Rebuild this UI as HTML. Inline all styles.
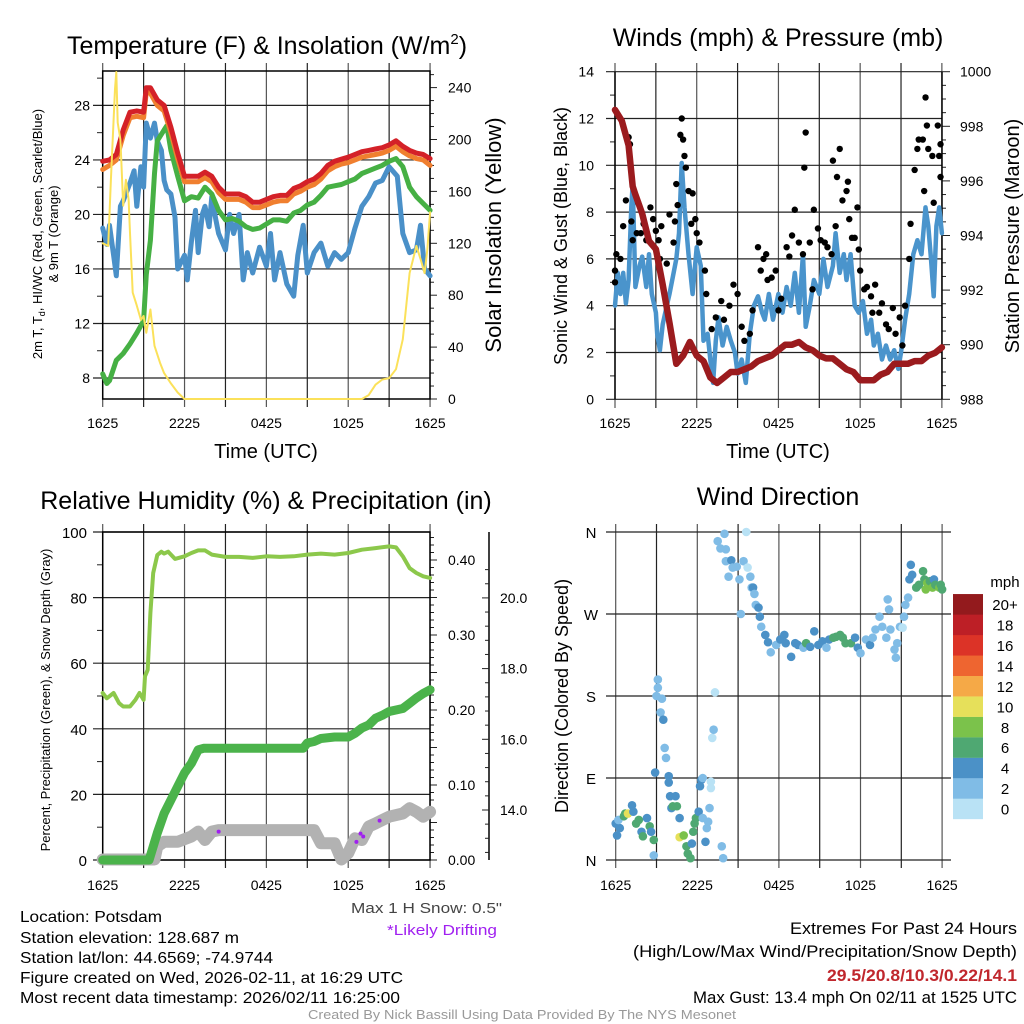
<!DOCTYPE html>
<html><head><meta charset="utf-8"><title>Mesonet Meteogram</title>
<style>
html,body{margin:0;padding:0;background:#fff;}
svg{display:block;font-family:"Liberation Sans",sans-serif;}
</style></head>
<body>
<svg id="fig" xmlns="http://www.w3.org/2000/svg" width="1024" height="1024" viewBox="0 0 1024 1024">
<rect width="1024" height="1024" fill="#fff"/>
<!-- Titles -->
<text x="267" y="54" font-size="25" text-anchor="middle">Temperature (F) &amp; Insolation (W/m<tspan font-size="15" dy="-10">2</tspan><tspan dy="10">)</tspan></text>
<text x="778" y="46" font-size="25" text-anchor="middle">Winds (mph) &amp; Pressure (mb)</text>
<text x="266" y="509" font-size="25" text-anchor="middle">Relative Humidity (%) &amp; Precipitation (in)</text>
<text x="778" y="505" font-size="25" text-anchor="middle">Wind Direction</text>
<!-- axis titles -->
<text x="266" y="458" font-size="20" text-anchor="middle">Time (UTC)</text>
<text x="778" y="458" font-size="20" text-anchor="middle">Time (UTC)</text>
<text transform="translate(42,234) rotate(-90)" font-size="13" text-anchor="middle">2m T, T<tspan font-size="9" dy="3">d</tspan><tspan dy="-3">, HI/WC (Red, Green, Scarlet/Blue)</tspan></text>
<text transform="translate(58,234) rotate(-90)" font-size="13" text-anchor="middle">&amp; 9m T (Orange)</text>
<text transform="translate(501,235) rotate(-90)" font-size="22" text-anchor="middle">Solar Insolation (Yellow)</text>
<text transform="translate(567,236) rotate(-90)" font-size="18" text-anchor="middle">Sonic Wind &amp; Gust (Blue, Black)</text>
<text transform="translate(1019,236) rotate(-90)" font-size="20" text-anchor="middle">Station Pressure (Maroon)</text>
<text transform="translate(50,700) rotate(-90)" font-size="13" text-anchor="middle">Percent, Precipitation (Green), &amp; Snow Depth (Gray)</text>
<text transform="translate(568,696) rotate(-90)" font-size="18" text-anchor="middle">Direction (Colored By Speed)</text>
<!-- footer -->
<text x="20" y="922" font-size="16" textLength="142" lengthAdjust="spacingAndGlyphs">Location: Potsdam</text>
<text x="20" y="943" font-size="16" textLength="219" lengthAdjust="spacingAndGlyphs">Station elevation: 128.687 m</text>
<text x="20" y="963" font-size="16" textLength="253" lengthAdjust="spacingAndGlyphs">Station lat/lon: 44.6569; -74.9744</text>
<text x="20" y="983" font-size="16" textLength="383" lengthAdjust="spacingAndGlyphs">Figure created on Wed, 2026-02-11, at 16:29 UTC</text>
<text x="20" y="1003" font-size="16" textLength="380" lengthAdjust="spacingAndGlyphs">Most recent data timestamp: 2026/02/11 16:25:00</text>
<text x="351" y="913" font-size="15" fill="#444" textLength="151" lengthAdjust="spacingAndGlyphs">Max 1 H Snow: 0.5"</text>
<text x="387" y="935" font-size="15" fill="#a020f0" textLength="110" lengthAdjust="spacingAndGlyphs">*Likely Drifting</text>
<text x="308" y="1019" font-size="13" fill="#999" textLength="428" lengthAdjust="spacingAndGlyphs">Created By Nick Bassill Using Data Provided By The NYS Mesonet</text>
<text x="790" y="934" font-size="17" textLength="227" lengthAdjust="spacingAndGlyphs">Extremes For Past 24 Hours</text>
<text x="633" y="957" font-size="17" textLength="384" lengthAdjust="spacingAndGlyphs">(High/Low/Max Wind/Precipitation/Snow Depth)</text>
<text x="827" y="981" font-size="17" font-weight="bold" fill="#c0272d" textLength="190" lengthAdjust="spacingAndGlyphs">29.5/20.8/10.3/0.22/14.1</text>
<text x="693" y="1003" font-size="17" textLength="324" lengthAdjust="spacingAndGlyphs">Max Gust: 13.4 mph On 02/11 at 1525 UTC</text>
<g id="g1"></g>
<g id="g2"></g>
<g id="g3"></g>
<g id="g4"></g>
</svg>
<script>
// ---------- DATA ----------
const timeTickLabels = ["1625","2225","0425","1025","1625"];
const tempTicks = [8,12,16,20,24,28];
const solarTicks = [0,40,80,120,160,200,240];
const windTicks = [0,2,4,6,8,10,12,14];
const presTicks = [988,990,992,994,996,998,1000];
const rhTicks = [0,20,40,60,80,100];
const precipTicks = ["0.00","0.10","0.20","0.30","0.40"];
const snowTicks = ["14.0","16.0","18.0","20.0"];
const dirTicks = ["N","E","S","W","N"];
const speedBins = ["0","2","4","6","8","10","12","14","16","18","20+"];
const speedColors = ["#b9e2f5","#80bce6","#4b91c7","#4fa872","#7bc24b","#e6e05a","#f5a947","#ee6530","#dc3327","#bd1f26","#931a1d"];

const redT = [0,0.5,1,1.5,2,2.5,3,3.2,3.5,4,4.5,5,5.5,6,6.5,7,7.5,8,8.5,9,9.5,10,10.5,11,11.5,12,12.5,13,13.5,14,14.5,15,15.5,16,16.5,17,17.5,18,18.5,19,19.5,20,20.5,21,21.5,22,22.5,23,23.5,24];
const redV = [23.9,24,24.4,26.2,27.5,27.6,27.5,29.3,29.3,28.4,28,26.4,24.5,22.8,22.8,22.8,23.1,22.8,22,21.5,21.5,21.5,21.3,20.9,20.9,21.1,21.3,21.4,21.4,21.9,22.1,22.4,22.6,23,23.6,23.9,24.05,24.2,24.4,24.6,24.7,24.8,24.9,25.1,25.4,25,24.7,24.5,24.4,24.1];
const orangeV = [23.3,23.6,24,25.8,27.1,27.2,27.1,29,28.9,28,27.6,26,24.1,22.4,22.4,22.4,22.7,22.4,21.6,21.1,21.1,21.1,20.9,20.5,20.5,20.7,20.9,21,21,21.5,21.7,22,22.2,22.6,23.2,23.5,23.7,23.8,24,24.2,24.3,24.4,24.5,24.7,25,24.6,24.3,24.1,24,23.6];
const greenT = [0,0.3,0.5,1,1.5,2,2.5,3,3.2,3.5,3.8,4,4.5,4.7,5,5.5,6,6.5,7,7.5,8,8.5,9,9.5,10,10.5,11,11.5,12,12.5,13,13.5,14,14.5,15,15.5,16,16.5,17,17.5,18,18.5,19,19.5,20,20.5,21,21.5,22,22.5,23,23.5,24];
const greenV = [8.3,7.6,7.8,9.3,9.8,10.5,11.3,12.2,15.6,18.1,23,25.4,26.2,26.5,24.7,22.8,21,21.3,21.2,22,21.5,20.3,19.6,19.7,19.5,19.1,18.9,19,19.3,19.6,19.6,19.5,20.1,20.3,20.7,20.9,21.4,22,22.1,22.2,22.4,22.6,23,23.2,23.4,23.6,23.9,24.1,23.5,22,21.3,20.8,20.3];
const blueT = [0,0.3,0.5,0.8,1,1.3,1.5,2,2.3,2.5,2.8,3,3.2,3.5,3.8,4,4.3,4.5,4.7,5,5.3,5.5,6,6.2,6.5,6.8,7,7.3,7.5,7.8,8,8.3,8.5,9,9.3,9.6,10,10.3,10.6,11,11.5,12,12.3,12.6,13,13.5,14,14.3,14.7,15,15.5,16,16.5,17,17.5,18,18.5,19,19.5,20,20.5,21,21.6,22,22.5,23,23.3,23.6,24];
const blueV = [19,17.8,19.2,17,15.5,20.6,21,22.3,23.2,20.6,23.5,22,26.7,25.6,26.7,25.4,24.7,22.5,21.8,21.5,19.8,16,17,15.2,18,20.3,17.2,20,20.6,19.1,21.3,19.6,18.6,17.4,20,18.6,20,15.2,17.2,15.7,17.6,16.2,18.6,15.2,17.2,14.9,14,17,19.2,15.7,17.2,17.9,16.2,17.2,16.7,17.2,19,20.6,21.3,22.3,22.5,23.5,22.8,18.6,17.2,17.4,19.2,16,15.5];
const solarT = [0,0.4,0.6,0.9,1,1.1,1.3,1.5,1.7,1.9,2,2.2,2.5,2.8,3,3.2,3.5,3.8,4.2,4.5,5,5.5,6,19,19.5,20,20.5,21,21.5,22,22.5,23,23.3,23.6,23.8,24];
const solarV = [120,118,169,239,252,213,200,149,169,154,128,82,72,61,64,51,69,41,28,20,12,5,0,0,3,11,15,16,23,46,97,118,108,97,115,144];

const presT = [0,0.5,1,1.3,1.5,2,2.5,3,3.5,4,4.5,5,5.5,6,6.5,7,7.5,8,8.5,9,9.5,10,10.5,11,11.5,12,12.5,13,13.5,14,14.5,15,15.5,16,16.5,17,17.5,18,18.5,19,19.5,20,20.5,21,21.5,22,22.5,23,23.5,24];
const presV = [998.6,998.2,997.3,995.8,995.5,994.8,993.8,993.5,992.2,990.8,989.3,989.6,990.1,989.6,989.4,988.8,988.6,988.8,989,989,989.1,989.2,989.4,989.5,989.6,989.8,990,990,990.1,989.9,989.8,989.6,989.5,989.5,989.3,989.1,989,988.7,988.7,988.7,988.9,989,989.3,989.3,989.3,989.4,989.4,989.6,989.7,989.9];
const windT = [0,0.2,0.4,0.6,0.8,1,1.2,1.3,1.5,1.8,2,2.3,2.5,2.7,3,3.1,3.3,3.5,3.8,4,4.3,4.5,4.7,4.9,5.1,5.4,5.7,6,6.3,6.5,6.8,7,7.2,7.4,7.6,7.9,8.2,8.5,8.8,9,9.3,9.6,9.9,10.2,10.5,10.8,11,11.3,11.6,12,12.3,12.6,12.9,13.2,13.5,13.8,14,14.3,14.6,15,15.3,15.6,16,16.2,16.5,16.8,17,17.3,17.6,17.9,18.2,18.5,18.8,19,19.3,19.6,19.9,20.2,20.5,20.8,21,21.3,21.6,21.9,22.2,22.5,22.8,23,23.2,23.4,23.6,23.8,24];
const windV = [4,5.4,4.5,5.4,4.1,5.1,8.2,9.2,4.8,5.7,6.1,4.8,6.2,4.5,3.7,2.8,2.1,3.2,4,4.5,5.4,6,7.1,10.1,8.2,6.2,4.5,6.5,5.7,2.5,2.8,1.7,0.7,2.5,3.5,2.3,3.1,2.5,2,1.1,1.7,0.7,2.8,4,4.4,3.7,3.4,4.5,3.4,4.5,3.7,4.8,4,5.4,3.7,6.2,3.1,4,5.1,4.5,6,4.8,5.7,7.1,5.4,6.2,5.1,6.2,4,3.7,4.2,2.8,3.4,2.3,2.8,1.7,2.3,1.7,2.1,1.3,2,3.4,4.5,6.2,6.8,6.2,8.2,7.4,6,4.4,7.4,8.2,7.1];
const gustT = [0,0,0.1,0.4,0.6,0.8,1,1.1,1.2,1.3,1.6,1.7,1.9,2.1,2.3,2.6,2.8,3,3.2,3.3,3.4,3.8,4,4.3,4.4,4.5,4.6,4.8,4.9,5,5.1,5.2,5.4,5.6,5.7,5.9,6,6.2,6.6,6.7,7.1,7.4,7.8,8,8.4,8.7,9,9.3,9.5,9.9,10.1,10.5,10.7,10.9,11.1,11.2,11.5,11.8,12,12.2,12.6,12.8,13,13.2,13.5,13.8,13.9,14,14.3,14.5,14.6,14.9,15.1,15.4,15.6,15.9,16,16.2,16.3,16.5,16.7,17,17.1,17.2,17.4,17.6,17.8,17.9,18,18.3,18.5,18.8,18.9,19.1,19.4,19.6,19.9,20.1,20.4,20.6,20.9,21.1,21.3,21.6,21.7,22,22.2,22.3,22.6,22.7,22.8,22.9,23,23.3,23.4,23.7,23.8,23.9,23.9];
const gustV = [5,5.5,6.2,6,7.4,8.5,11.2,10.9,7.6,6.8,7.1,8.4,7.1,7.5,6.8,8.2,7.7,7.2,6.8,6,7.4,5.8,7.9,6.7,7.6,9.2,8.3,11.3,12,11.1,10.4,9.9,8.9,7.5,8.8,7.7,7.1,6.7,5.5,4.5,3,3.5,4.2,3.4,4,4.9,4.5,3.1,2.5,2.8,3.8,6.5,5.5,6,6.2,5.1,5.2,5.5,3.8,4.3,6.5,6.1,7,8.1,6.7,6.2,9.9,11.4,6.7,4.7,8.1,7.3,6.8,6.7,6.5,6.2,10.2,7.4,9.5,10.7,8.5,8.9,9.3,7.7,6.9,6.9,8.2,6.4,5.5,4.7,4.8,4.4,3.7,4.9,3.7,4.1,3.2,3,3.9,2.8,3.5,2.3,4,6,7.5,9.8,10.7,11.1,11.1,8.9,12.9,11.7,10.7,10.4,8.4,11.7,10.4,10.9,9.5];

const rhT = [0,0.3,0.8,1.2,1.5,2,2.4,2.7,3,3.1,3.3,3.5,3.7,4,4.3,4.5,4.8,5.3,6,6.5,7,7.5,8,9,10,11,12,13,14,15,16,17,18,19,20,21,21.5,22,22.5,23,23.5,24];
const rhV = [50.9,49.3,50.9,47.8,46.8,46.8,48.8,50.9,48.8,56,58,75.3,87.5,93,94,93.4,94,91.8,92.6,93.6,94.4,94.4,93.1,92.4,92.4,92.1,92.6,92.4,92.6,93.1,93.4,93.1,93.6,94.6,95.1,95.6,95.3,92.6,89,87.5,86.5,86];
const precipT = [0,3.4,4,4.5,5,5.5,6,6.5,7,7.4,14.7,15,15.5,16,17,18,18.5,19,19.5,20,20.5,21,21.5,22,22.5,23,23.5,24];
const precipV = [0,0,0.036,0.062,0.08,0.098,0.116,0.129,0.147,0.149,0.149,0.156,0.158,0.162,0.164,0.164,0.169,0.176,0.18,0.189,0.193,0.198,0.2,0.202,0.209,0.216,0.222,0.227];
const snowT = [0,3.8,4,4.5,5.5,6.5,7,7.5,8,8.5,15.5,16,17,17.5,18,18.5,19,19.5,20,21,22,22.5,23,23.5,24];
const snowV = [12.6,12.6,12.97,13.1,13.1,13.25,13.39,13.15,13.39,13.43,13.43,13.06,13.06,12.6,12.78,13.2,13.15,13.53,13.62,13.81,13.9,14.05,13.95,13.81,13.95];
const driftT = [8.5,18.6,18.9,19.1,20.3];
const driftV = [13.39,13.1,13.33,13.25,13.7];

const dirT = [0,0.1,0.3,0.2,0.6,0.7,0.9,1.2,1.3,1.5,1.7,1.9,2,2.3,2.5,2.6,2.8,2.8,2.9,3,3.1,3.1,3.3,3.4,3.5,3.6,3.7,3.9,3.9,4,4.1,4.2,4.4,4.5,4.7,4.7,5,5.2,5.3,5.5,5.6,5.7,5.8,5.9,6.1,6.2,6.3,6.4,6.4,6.6,6.7,6.8,6.9,7,7,7.1,7.2,7.3,7.5,7.7,7.8,7.9,8,8.1,8.1,8.3,8.5,8.6,8.9,9.1,9.2,9.4,9.6,9.7,9.9,10,10.1,10.2,10.3,10.5,10.6,10.7,11,11.2,11.4,11.8,12.1,12.4,12.5,12.9,13.2,13.4,13.8,14,14.3,14.6,14.9,15.2,15.5,15.7,16,16.2,16.5,16.7,16.9,17.3,17.6,17.8,18,18.4,18.7,18.9,19.1,19.4,19.6,19.9,20,20.1,20.2,20.5,20.6,20.7,20.9,21.1,21.2,21.3,21.5,21.6,21.7,21.8,22.1,22.3,22.6,22.7,22.8,22.9,23.1,23.3,23.4,23.5,23.8,23.9,24];
const dirV = [40,27,35,44,48,51,51,60,53,40,44,31,26,46,37,31,22,5,96,180,198,189,162,177,154,123,112,92,85,70,57,59,70,59,46,25,27,15,7,2,18,31,40,46,53,81,88,90,46,20,35,42,57,86,79,134,143,184,350,342,15,2,358,341,328,311,329,321,322,308,270,328,360,321,311,299,299,292,280,277,267,256,247,239,228,236,242,247,238,223,238,236,233,238,234,251,236,240,233,242,244,245,247,244,238,238,244,233,227,242,236,244,253,267,256,244,286,275,253,231,222,238,256,255,267,280,288,308,324,313,299,302,317,308,297,304,306,299,308,302,299,302,297];
const dirSpeed = [5,5,5,3,7,7,11,5,5,7,7,5,7,5,7,5,7,3,5,3,3,3,3,3,5,3,3,5,5,5,5,7,5,7,5,11,9,7,7,7,5,7,7,7,5,5,5,3,3,5,3,3,3,1,1,1,3,1,3,3,3,3,3,3,3,3,5,3,3,3,3,3,1,1,3,3,5,3,3,5,5,3,5,5,3,3,5,5,5,5,5,5,3,7,5,5,5,5,3,5,7,7,7,7,7,7,5,5,3,3,5,3,3,3,3,3,3,3,3,3,3,3,3,1,3,3,3,5,5,5,7,7,7,7,9,9,7,9,5,7,9,7,7];

// ---------- SCALES ----------
const NS = "http://www.w3.org/2000/svg";
const xA = t => 102.7 + t * 13.64;
const xB = t => 615 + t * 13.62;
const xD = t => 615.7 + t * 13.6;
const yTemp = v => 378 - (v - 8) * 13.63;
const ySolar = w => 399 - w * 1.2975;
const yWind = v => 399.3 - v * 23.4;
const yPres = p => 399.3 - (p - 988) * 27.3;
const yRH = v => 860 - v * 3.28;
const yPrecip = v => 860 - v * 750;
const ySnow = v => 810 - (v - 14) * 35.35;
const yDir = d => 860 - d * 0.9111;

function el(tag, parent) { const e = document.createElementNS(NS, tag); parent.appendChild(e); return e; }
function line(p, x1, y1, x2, y2, c, w) {
  const l = el("line", p);
  l.setAttribute("x1", x1); l.setAttribute("y1", y1); l.setAttribute("x2", x2); l.setAttribute("y2", y2);
  l.setAttribute("stroke", c); l.setAttribute("stroke-width", w);
  return l;
}
function txt(p, x, y, s, size, anchor) {
  const t = el("text", p);
  t.setAttribute("x", x); t.setAttribute("y", y); t.setAttribute("font-size", size);
  t.setAttribute("text-anchor", anchor); t.textContent = s;
  return t;
}
function path(p, ts, vs, fx, fy, c, w) {
  const d = ts.map((t, i) => (i ? "L" : "M") + fx(t).toFixed(1) + "," + fy(vs[i]).toFixed(1)).join("");
  const e = el("path", p);
  e.setAttribute("d", d); e.setAttribute("fill", "none"); e.setAttribute("stroke", c);
  e.setAttribute("stroke-width", w); e.setAttribute("stroke-linejoin", "round"); e.setAttribute("stroke-linecap", "round");
  return e;
}
function timeGrid(g, fx, y0, y1, labY) {
  for (let i = 0; i <= 8; i++) {
    const gl = line(g, fx(i * 3), y0, fx(i * 3), y1, i % 2 ? "#222" : "#555", 1.2);
    
    
  }
  timeTickLabels.forEach((s, i) => {
    const t = txt(g, fx(i * 6), labY, s, 14, "middle");
    
    
  });
}

// ---------- PANEL 1 ----------
const g1 = document.getElementById("g1");
timeGrid(g1, xA, 63, 407, 428);
tempTicks.forEach(v => {
  const gl = line(g1, 93, yTemp(v), 430, yTemp(v), "#222", 1.2);
  
  
  const t = txt(g1, 90, yTemp(v) + 5, v, 14, "end");
  
  
});
for (let v = 10; v <= 30; v += 4) { const m = line(g1, 97, yTemp(v), 102.7, yTemp(v), "#222", 1);   }
for (let w = 0; w <= 250; w += 10) { const m = line(g1, 430, ySolar(w), w % 40 ? 434 : 437, ySolar(w), "#222", 1);   }
solarTicks.forEach(w => {
  const t = txt(g1, 448, ySolar(w) + 5, w, 14, "start");
  
  
});
const b1 = el("rect", g1);
b1.setAttribute("x", 102.7); b1.setAttribute("y", 71); b1.setAttribute("width", 327.3); b1.setAttribute("height", 328);
b1.setAttribute("fill", "none"); b1.setAttribute("stroke", "#000"); b1.setAttribute("stroke-width", 1.5);


let s;
s = path(g1, blueT, blueV, xA, yTemp, "#4a90c8", 5);


s = path(g1, greenT, greenV, xA, yTemp, "#46b044", 5);


s = path(g1, redT, orangeV, xA, yTemp, "#f07f2f", 5);


s = path(g1, redT, redV, xA, yTemp, "#d42128", 5);


s = path(g1, solarT, solarV, xA, ySolar, "#fbe15a", 2);



// ---------- PANEL 2 ----------
const g2 = document.getElementById("g2");
timeGrid(g2, xB, 63, 408, 428);
windTicks.forEach(v => {
  const gl = line(g2, 606, yWind(v), 942, yWind(v), "#222", 1.2);
  
  
  const t = txt(g2, 594, yWind(v) + 5, v, 14, "end");
  
  
});
for (let v = 1; v < 14; v += 2) { const m = line(g2, 610, yWind(v), 615, yWind(v), "#222", 1);   }
for (let p = 988; p <= 1000; p += 0.5) { const m = line(g2, 942, yPres(p), p % 2 ? 946 : 950, yPres(p), "#222", 1);   }
presTicks.forEach(p => {
  const t = txt(g2, 960, yPres(p) + 5, p, 14, "start");
  
  
});
line(g2, 615, 71.7, 615, 399.3, "#000", 1.5);
line(g2, 942, 71.7, 942, 399.3, "#000", 1.5);
s = path(g2, windT, windV, xB, yWind, "#4a94cc", 4.5);


gustT.forEach((t, i) => {
  const c = el("circle", g2);
  c.setAttribute("cx", xB(t)); c.setAttribute("cy", yWind(gustV[i])); c.setAttribute("r", 3.2); c.setAttribute("fill", "#000");
  
  
});
s = path(g2, presT, presV, xB, yPres, "#9b1b1e", 6.5);



// ---------- PANEL 3 ----------
const g3 = document.getElementById("g3");
timeGrid(g3, xA, 524, 868, 890);
rhTicks.forEach(v => {
  const gl = line(g3, 93, yRH(v), 430, yRH(v), "#222", 1.2);
  
  
  const t = txt(g3, 87, yRH(v) + 6, v, 15, "end");
  
  
});
for (let v = 10; v < 100; v += 20) { const m = line(g3, 97, yRH(v), 102.7, yRH(v), "#222", 1);   }
for (let i = 0; i <= 43; i++) { const v = i * 0.01; const m = line(g3, 430, yPrecip(v), i % 5 ? 434 : 437, yPrecip(v), "#222", 1);   }
precipTicks.forEach((s2, i) => {
  const t = txt(g3, 448, yPrecip(i * 0.1) + 5, s2, 14, "start");
  
  
});
line(g3, 489, 532, 489, 860, "#000", 1.5);
for (let v = 12.8; v <= 20.9; v += 0.4) { const major = Math.abs(v - Math.round(v / 2) * 2) < 0.05; const m = line(g3, major ? 482 : 485, ySnow(v), 489, ySnow(v), "#222", 1);   }
snowTicks.forEach((s2, i) => {
  const t = txt(g3, 500, ySnow(14 + i * 2) + 5, s2, 14, "start");
  
  
});
const b3 = el("rect", g3);
b3.setAttribute("x", 102.7); b3.setAttribute("y", 532); b3.setAttribute("width", 327.3); b3.setAttribute("height", 328);
b3.setAttribute("fill", "none"); b3.setAttribute("stroke", "#000"); b3.setAttribute("stroke-width", 1.5);


s = path(g3, snowT, snowV, xA, ySnow, "#b2b2b2", 12);


s = path(g3, precipT, precipV, xA, yPrecip, "#4bb34b", 9);


s = path(g3, rhT, rhV, xA, yRH, "#8cc84b", 4);


driftT.forEach((t, i) => {
  const c = el("circle", g3);
  c.setAttribute("cx", xA(t)); c.setAttribute("cy", ySnow(driftV[i])); c.setAttribute("r", 2); c.setAttribute("fill", "#a020f0");
  
  
});

// ---------- PANEL 4 ----------
const g4 = document.getElementById("g4");
timeGrid(g4, xD, 524, 868, 890);
dirTicks.forEach((s2, i) => {
  const y = yDir(i * 90);
  const gl = line(g4, 606, y, 951, y, "#222", 1.2);
  
  
  const t = txt(g4, 591, y + 6, s2, 15, "middle");
  
  
});
dirT.forEach((t, i) => {
  const c = el("circle", g4);
  c.setAttribute("cx", xD(t)); c.setAttribute("cy", yDir(dirV[i])); c.setAttribute("r", 4.3);
  c.setAttribute("fill", speedColors[Math.min(10, Math.floor(dirSpeed[i] / 2))]);
  
  
});
const lab = txt(g4, 1005, 587, "mph", 15, "middle");


speedBins.forEach((b, i) => {
  const y = 819 - (i + 1) * 20.45;
  const r = el("rect", g4);
  r.setAttribute("x", 953); r.setAttribute("y", y); r.setAttribute("width", 30); r.setAttribute("height", 20.6);
  r.setAttribute("fill", speedColors[i]);
  
  
  const t = txt(g4, 1005, y + 16, b, 15, "middle");
  
  
});
</script>
</body></html>
